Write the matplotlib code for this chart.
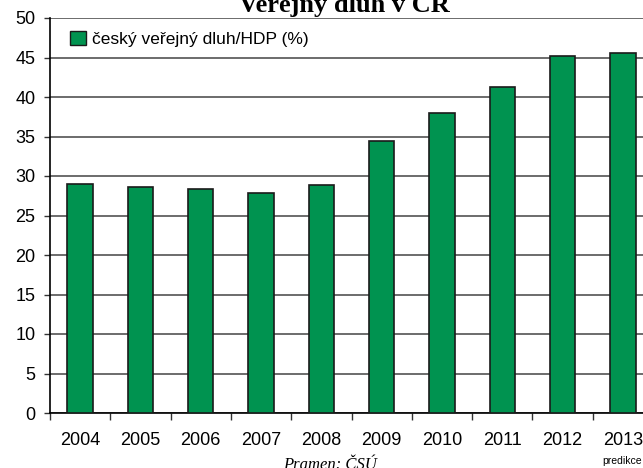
import numpy as np
import matplotlib
matplotlib.use("Agg")
import matplotlib.pyplot as plt
from matplotlib.patches import Patch

plt.rcParams["font.family"] = ["Liberation Sans", "DejaVu Sans"]

years = ["2004", "2005", "2006", "2007", "2008", "2009", "2010", "2011", "2012", "2013"]
debt = [29.0, 28.6, 28.3, 27.9, 28.8, 34.4, 38.0, 41.3, 45.2, 45.6]
yticks = [0, 5, 10, 15, 20, 25, 30, 35, 40, 45, 50]
title = "Veřejný dluh v ČR"
legend_label = "český veřejný dluh/HDP (%)"
source = "Pramen: ČSÚ"
note = "predikce"

GREEN = "#009350"

fig = plt.figure(figsize=(6.43, 4.68), dpi=100)
# axes run past the right edge like in the cropped original
ax = fig.add_axes([50 / 643, 55 / 468, 603 / 643, 395 / 468])

x = np.arange(len(years))
ax.bar(x, debt, width=0.42, color=GREEN, edgecolor="#1a1a1a", linewidth=1.2, zorder=3)

ax.set_xlim(-0.5, len(years) - 0.5)
ax.set_ylim(0, 50)
ax.set_yticks(yticks)
ax.grid(axis="y", color="#444444", linewidth=1.1, zorder=0)

# ticks between categories, labels under bars
ax.set_xticks(np.arange(len(years) + 1) - 0.5)
ax.set_xticklabels([])
ax.set_xticks(x, minor=True)
ax.set_xticklabels(years, minor=True)
ax.tick_params(axis="x", which="major", direction="out", length=5, width=1, color="#333333")
ax.tick_params(axis="x", which="minor", length=0, pad=14, labelsize=13)
ax.tick_params(axis="y", direction="out", length=4.5, width=1, color="#333333", pad=6, labelsize=13)

for s in ["top", "right"]:
    ax.spines[s].set_visible(False)
ax.spines["left"].set_linewidth(1.2)
ax.spines["bottom"].set_linewidth(1.2)

handle = Patch(facecolor=GREEN, edgecolor="#1a1a1a", linewidth=1.0)
ax.legend([handle], [legend_label], loc="upper left", bbox_to_anchor=(0.005, 1.012),
          frameon=False, fontsize=12.5, handlelength=0.9, handleheight=0.9,
          handletextpad=0.35, borderaxespad=0.6)

fig.text(344 / 643, 1 - 3 / 468, title, ha="center", va="center", fontsize=19,
         fontweight="bold", family=["Liberation Serif", "DejaVu Serif"])
fig.text(330 / 643, 1 - 465 / 468, source, ha="center", va="center", fontsize=12,
         style="italic", family=["Liberation Serif", "DejaVu Serif"])
fig.text(622 / 643, 1 - 461 / 468, note, ha="center", va="center", fontsize=7.5)

fig.savefig("out.png", dpi=100)
